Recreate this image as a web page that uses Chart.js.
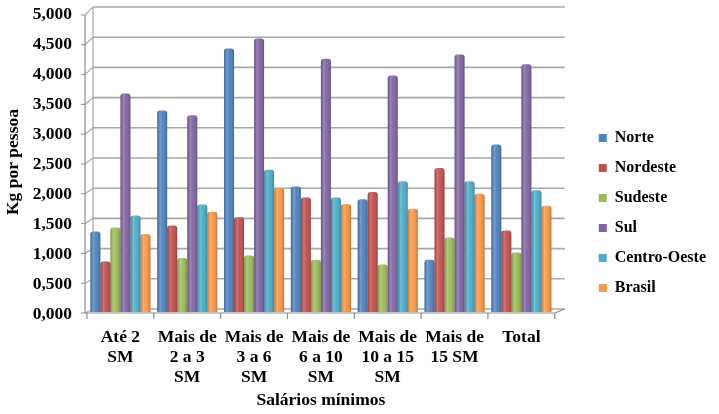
<!DOCTYPE html>
<html>
<head>
<meta charset="utf-8">
<script src="https://cdn.jsdelivr.net/npm/chart.js@4.4.1/dist/chart.umd.min.js"></script>
<style>
  html, body { margin: 0; padding: 0; background: #fff; }
  #wrap { width: 719px; height: 414px; }
</style>
</head>
<body>
<div id="wrap"><canvas id="c" width="719" height="414"></canvas></div>
<script>
// Consumo per capita por faixa de renda (Kg por pessoa)
const categories = [
  ['Até 2', 'SM'],
  ['Mais de', '2 a 3', 'SM'],
  ['Mais de', '3 a 6', 'SM'],
  ['Mais de', '6 a 10', 'SM'],
  ['Mais de', '10 a 15', 'SM'],
  ['Mais de', '15 SM'],
  ['Total']
];
const norte       = [1.34, 3.36, 4.39, 2.09, 1.88, 0.87, 2.79];
const nordeste    = [0.84, 1.44, 1.58, 1.91, 2.00, 2.40, 1.36];
const sudeste     = [1.41, 0.90, 0.94, 0.87, 0.79, 1.24, 0.99];
const sul         = [3.64, 3.28, 4.56, 4.22, 3.94, 4.29, 4.13];
const centroOeste = [1.61, 1.79, 2.37, 1.91, 2.18, 2.18, 2.03];
const brasil      = [1.30, 1.67, 2.07, 1.80, 1.72, 1.97, 1.77];

const seriesNames  = ['Norte', 'Nordeste', 'Sudeste', 'Sul', 'Centro-Oeste', 'Brasil'];
const seriesValues = [norte, nordeste, sudeste, sul, centroOeste, brasil];
const seriesColors = ['#4F81BD', '#C0504D', '#9BBB59', '#8064A2', '#4BACC6', '#F79646'];

const FONT = '"Liberation Serif", "Times New Roman", serif';
const AXIS_SIZE = 17.5;

// Back wall, side wall and floor outlines of the pseudo-3D plot box
const wallGrid = {
  id: 'wallGrid',
  beforeDatasetsDraw(chart) {
    const ctx = chart.ctx;
    const ys = chart.scales.y;
    const left = chart.chartArea.left, right = chart.chartArea.right;
    const fx = left - 2, bx = left + 6, brx = right + 10;
    const fOff = v => 1 + 2 * (v / 5);
    const bOff = v => -3 - 2 * (v / 5);
    ctx.save();
    ctx.lineCap = 'butt';
    for (let k = 0; k <= 10; k++) {
      const v = k * 0.5;
      const yp = ys.getPixelForValue(v);
      // back wall horizontal line
      ctx.strokeStyle = '#a8a8a8';
      ctx.lineWidth = 1.6;
      ctx.beginPath();
      ctx.moveTo(bx, yp + bOff(v));
      ctx.lineTo(brx, yp + bOff(v));
      ctx.stroke();
      // side wall diagonal
      ctx.strokeStyle = '#b0b0b0';
      ctx.lineWidth = 1.3;
      ctx.beginPath();
      ctx.moveTo(fx, yp + fOff(v));
      ctx.lineTo(bx, yp + bOff(v));
      ctx.stroke();
      // tick mark on front axis
      ctx.strokeStyle = '#8c8c8c';
      ctx.lineWidth = 1;
      ctx.beginPath();
      ctx.moveTo(fx - 4, yp + fOff(v));
      ctx.lineTo(fx, yp + fOff(v));
      ctx.stroke();
    }
    const y0 = ys.getPixelForValue(0), y5 = ys.getPixelForValue(5);
    // back wall left edge
    ctx.strokeStyle = '#a8a8a8';
    ctx.lineWidth = 1.2;
    ctx.beginPath();
    ctx.moveTo(bx, y5 + bOff(5));
    ctx.lineTo(bx, y0 + bOff(0));
    ctx.stroke();
    // front vertical axis
    ctx.strokeStyle = '#8c8c8c';
    ctx.lineWidth = 1.2;
    ctx.beginPath();
    ctx.moveTo(fx, y5 + fOff(5));
    ctx.lineTo(fx, y0 + fOff(0));
    ctx.stroke();
    // floor front edge and right diagonal
    ctx.beginPath();
    ctx.moveTo(fx, y0 + fOff(0));
    ctx.lineTo(right, y0 + fOff(0));
    ctx.lineTo(brx, y0 + bOff(0));
    ctx.stroke();
    // category boundary ticks
    const n = categories.length;
    for (let i = 0; i <= n; i++) {
      const xp = left + (right - left) * i / n;
      ctx.beginPath();
      ctx.moveTo(xp, y0 + fOff(0));
      ctx.lineTo(xp, y0 + fOff(0) + 6);
      ctx.stroke();
    }
    ctx.restore();
  }
};

// Cylinder-like shading over each column
const barShade = {
  id: 'barShade',
  afterDatasetsDraw(chart) {
    const ctx = chart.ctx;
    chart.data.datasets.forEach((ds, i) => {
      const meta = chart.getDatasetMeta(i);
      meta.data.forEach(bar => {
        const p = bar.getProps(['x', 'y', 'base', 'width'], true);
        const l = p.x - p.width / 2;
        const g = ctx.createLinearGradient(l, 0, l + p.width, 0);
        g.addColorStop(0, 'rgba(0,0,0,0.16)');
        g.addColorStop(0.3, 'rgba(255,255,255,0.22)');
        g.addColorStop(0.55, 'rgba(255,255,255,0.04)');
        g.addColorStop(1, 'rgba(0,0,0,0.22)');
        ctx.save();
        ctx.fillStyle = g;
        ctx.beginPath();
        if (ctx.roundRect) ctx.roundRect(l, p.y, p.width, p.base - p.y, [3, 3, 0, 0]);
        else ctx.rect(l, p.y, p.width, p.base - p.y);
        ctx.fill();
        ctx.restore();
      });
    });
  }
};

const fmt = v => Number(v).toFixed(3).replace('.', ',');
const noPad = s => { s.paddingTop = 0; s.paddingBottom = 0; s.paddingLeft = 0; s.paddingRight = 0; };

new Chart(document.getElementById('c'), {
  type: 'bar',
  data: {
    labels: categories,
    datasets: seriesNames.map((name, i) => ({
      label: name,
      data: seriesValues[i],
      backgroundColor: seriesColors[i],
      borderWidth: 0,
      borderRadius: { topLeft: 3, topRight: 3, bottomLeft: 0, bottomRight: 0 },
      borderSkipped: 'bottom',
      categoryPercentage: 0.9,
      barPercentage: 1.0
    }))
  },
  options: {
    responsive: false,
    animation: false,
    layout: { padding: { top: 12, left: 0, right: 3, bottom: 0 } },
    plugins: {
      legend: {
        position: 'right',
        maxWidth: 150,
        labels: {
          boxWidth: 8,
          boxHeight: 8,
          padding: 14,
          color: '#000',
          font: { family: FONT, size: 16, weight: 'bold' }
        }
      },
      tooltip: { enabled: false }
    },
    scales: {
      x: {
        type: 'category',
        grid: { display: false, drawTicks: false },
        border: { display: false },
        ticks: {
          color: '#000',
          font: { family: FONT, size: AXIS_SIZE, weight: 'bold', lineHeight: 1.15 },
          padding: 15,
          maxRotation: 0,
          minRotation: 0,
          autoSkip: false
        },
        title: {
          display: true,
          text: 'Salários mínimos',
          color: '#000',
          font: { family: FONT, size: AXIS_SIZE, weight: 'bold' },
          padding: { top: 0, bottom: 3 }
        },
        afterFit: s => { s.height = 102; noPad(s); }
      },
      y: {
        min: 0,
        max: 5,
        grid: { display: false, drawTicks: false },
        border: { display: false },
        ticks: {
          stepSize: 0.5,
          color: '#000',
          font: { family: FONT, size: AXIS_SIZE, weight: 'bold' },
          padding: 15,
          labelOffset: 2,
          callback: v => fmt(v)
        },
        title: {
          display: true,
          text: 'Kg por pessoa',
          color: '#000',
          font: { family: FONT, size: AXIS_SIZE, weight: 'bold' },
          padding: { top: 3, bottom: 0 }
        },
        afterFit: s => { s.width = 87; noPad(s); }
      },
      gap: {
        type: 'linear',
        position: 'right',
        display: true,
        grid: { display: false, drawTicks: false },
        border: { display: false },
        ticks: { display: false },
        afterFit: s => { s.width = 30; noPad(s); }
      }
    }
  },
  plugins: [wallGrid, barShade]
});
</script>
</body>
</html>
